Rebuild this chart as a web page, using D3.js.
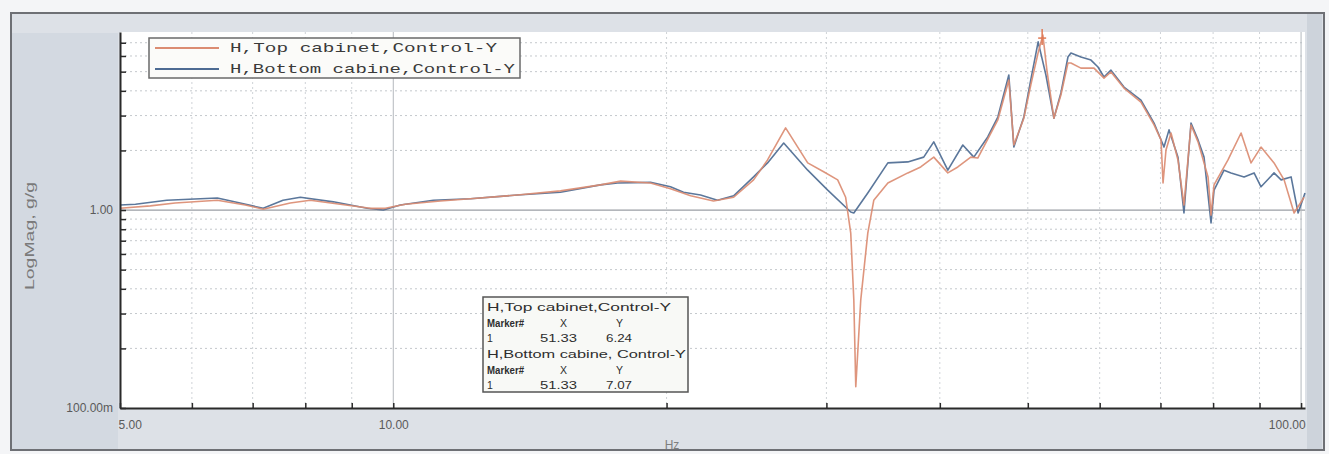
<!DOCTYPE html>
<html>
<head>
<meta charset="utf-8">
<script src="https://cdn.jsdelivr.net/npm/d3@7"></script>
<style>
  html, body { margin: 0; padding: 0; background: #f4f5f7; }
  svg { display: block; }
</style>
</head>
<body>
<svg id="chart" width="1329" height="454"></svg>
<script>
// Transfer function magnitude, top cabinet vs. bottom cabinet (frequency in Hz, magnitude in g/g)
const freqTop = [5.00, 5.40, 5.75, 6.40, 6.87, 7.19, 7.70, 8.10, 8.74, 9.43, 9.80, 10.31, 11.27, 12.16, 13.70,
  15.28, 16.91, 17.80, 19.20, 20.20, 21.26, 22.53, 23.71, 24.94, 25.84, 27.05, 28.61, 29.79, 30.87, 31.50,
  31.91, 32.16, 32.32, 32.73, 33.32, 33.83, 35.06, 36.88, 38.11, 39.39, 40.82, 41.87, 43.27, 44.04, 45.17,
  46.34, 47.65, 48.26, 49.50, 50.38, 51.33, 51.95, 52.48, 53.42, 54.38, 55.36, 55.78, 57.21, 59.14, 60.66,
  61.74, 63.81, 66.62, 68.87, 70.10, 70.46, 70.99, 71.90, 73.18, 74.30, 75.64, 77.00, 78.98, 79.58, 80.19,
  83.08, 85.88, 88.08, 90.34, 93.37, 95.79, 98.24, 100.77];
const magTop = [1.02, 1.05, 1.085, 1.12, 1.06, 1.01, 1.085, 1.12, 1.07, 1.02, 1.02, 1.07, 1.11, 1.14, 1.19,
  1.25, 1.34, 1.40, 1.37, 1.28, 1.18, 1.11, 1.16, 1.42, 1.79, 2.60, 1.73, 1.56, 1.42, 1.16,
  0.765, 0.351, 0.128, 0.351, 0.765, 1.12, 1.37, 1.54, 1.65, 1.85, 1.54, 1.65, 1.85, 1.83, 2.28,
  2.85, 4.54, 2.13, 2.91, 4.28, 6.24, 7.65, 5.09, 2.91, 3.81, 5.53, 5.53, 5.21, 5.21, 4.64,
  4.98, 4.13, 3.51, 2.69, 2.26, 1.37, 2.01, 2.45, 1.79, 1.06, 2.69, 2.21, 1.47, 0.943, 1.34,
  1.79, 2.45, 1.73, 2.08, 1.73, 1.42, 0.966, 1.16];

const freqBottom = [5.00, 5.20, 5.63, 6.13, 6.40, 6.78, 7.19, 7.56, 7.90, 8.59, 9.36, 9.75, 10.18, 11.07, 12.16,
  13.70, 15.28, 16.91, 17.66, 19.20, 20.20, 20.88, 21.80, 22.76, 23.71, 24.94, 25.84, 26.92, 28.61, 30.10,
  31.91, 32.16, 33.32, 35.06, 36.88, 38.40, 39.39, 40.82, 42.40, 43.60, 45.17, 46.34, 47.65, 48.26, 49.50,
  50.38, 51.33, 52.35, 53.42, 54.38, 55.36, 55.78, 57.21, 58.69, 59.74, 60.66, 61.74, 63.81, 66.62, 68.87,
  70.63, 71.54, 73.18, 74.30, 75.64, 77.00, 78.18, 79.58, 80.19, 82.25, 83.72, 86.54, 88.76, 90.34, 93.37,
  95.06, 97.50, 99.25, 101.0];
const magBottom = [1.06, 1.07, 1.12, 1.14, 1.15, 1.085, 1.02, 1.12, 1.16, 1.10, 1.02, 1.00, 1.06, 1.12, 1.14,
  1.19, 1.23, 1.34, 1.37, 1.38, 1.31, 1.23, 1.19, 1.12, 1.18, 1.47, 1.73, 2.18, 1.59, 1.26,
  0.977, 0.966, 1.22, 1.73, 1.75, 1.85, 2.21, 1.59, 2.13, 1.85, 2.34, 2.95, 4.81, 2.08, 2.95,
  4.54, 7.07, 4.81, 2.91, 3.90, 5.93, 6.21, 5.93, 5.72, 5.28, 4.70, 5.09, 4.18, 3.59, 2.75,
  2.08, 2.54, 1.85, 0.966, 2.75, 2.26, 1.85, 0.86, 1.26, 1.59, 1.54, 1.47, 1.54, 1.31, 1.54,
  1.42, 1.47, 0.966, 1.22];

const seriesNames = ["H,Top cabinet,Control-Y", "H,Bottom cabine,Control-Y"];
const seriesColors = ["#db8c72", "#4d6b93"];

const xTickValues = [5, 10, 100];
const xTickLabels = ["5.00", "10.00", "100.00"];
const xMinorValues = [6, 7, 8, 9, 20, 30, 40, 50, 60, 70, 80, 90];
const yTickValues = [0.1, 1];
const yTickLabels = ["100.00m", "1.00"];
const yMinorValues = [0.2, 0.3, 0.4, 0.5, 0.6, 0.7, 0.8, 0.9, 2, 3, 4, 5, 6, 7];

// Marker readout at the main resonance
const markerX = 51.33;
const markerY = [6.24, 7.07];

const svg = d3.select("#chart");
const plot = { left: 120, right: 1305, top: 32, bottom: 408 };

const x = d3.scaleLog().domain([5, 101]).range([plot.left, plot.right]);
const y = d3.scaleLog().domain([0.1, 7.93]).range([plot.bottom, plot.top]);

// Outer panel and frame
svg.append("rect").attr("x", 11).attr("y", 13).attr("width", 1313).attr("height", 437)
  .attr("fill", "#dde1e7").attr("stroke", "#6e7075").attr("stroke-width", 2);
svg.append("rect").attr("x", 12).attr("y", 33).attr("width", 106).attr("height", 416)
  .attr("fill", "#d3d9e1");
svg.append("rect").attr("x", plot.right + 2).attr("y", 14).attr("width", 15).attr("height", 435)
  .attr("fill", "#cdd3db");
svg.append("rect").attr("x", plot.left).attr("y", plot.top)
  .attr("width", plot.right - plot.left).attr("height", plot.bottom - plot.top)
  .attr("fill", "#ffffff");

// Grid
const grid = svg.append("g");
grid.selectAll("line.hminor").data(yMinorValues).join("line")
  .attr("x1", plot.left).attr("x2", plot.right)
  .attr("y1", d => y(d)).attr("y2", d => y(d))
  .attr("stroke", "#c4c8cc").attr("stroke-width", 1).attr("stroke-dasharray", "2,3");
grid.selectAll("line.vminor").data(xMinorValues).join("line")
  .attr("x1", d => x(d)).attr("x2", d => x(d))
  .attr("y1", plot.top).attr("y2", plot.bottom)
  .attr("stroke", "#cfd3d7").attr("stroke-width", 1).attr("stroke-dasharray", "2,3");
grid.append("line")
  .attr("x1", plot.left).attr("x2", plot.right)
  .attr("y1", y(1)).attr("y2", y(1))
  .attr("stroke", "#9a9ea4").attr("stroke-width", 1.2);
grid.selectAll("line.vmajor").data([10, 100]).join("line")
  .attr("x1", d => x(d)).attr("x2", d => x(d))
  .attr("y1", plot.top).attr("y2", plot.bottom)
  .attr("stroke", "#b4b8bd").attr("stroke-width", 1);

// Curves
svg.append("clipPath").attr("id", "plotclip").append("rect")
  .attr("x", plot.left).attr("y", plot.top - 6)
  .attr("width", plot.right - plot.left + 3).attr("height", plot.bottom - plot.top + 6);

const line = d3.line().x(d => x(d[0])).y(d => y(d[1]));
const seriesData = [
  d3.zip(freqTop, magTop),
  d3.zip(freqBottom, magBottom)
];
const curves = svg.append("g").attr("clip-path", "url(#plotclip)");
// bottom cabinet drawn first, top cabinet over it
[1, 0].forEach(i => {
  curves.append("path").datum(seriesData[i])
    .attr("d", line)
    .attr("fill", "none")
    .attr("stroke", seriesColors[i])
    .attr("stroke-width", 1.6)
    .attr("stroke-linejoin", "round")
    .attr("opacity", 0.92);
});

// Marker cursor on the top cabinet trace
const mx = x(markerX);
svg.append("line").attr("x1", mx + 4).attr("x2", mx + 4).attr("y1", y(7.65) - 6).attr("y2", y(7.65) + 10)
  .attr("stroke", "#e07a55").attr("stroke-width", 1.5);
svg.append("line").attr("x1", mx).attr("x2", mx + 8).attr("y1", y(7.65) + 3).attr("y2", y(7.65) + 3)
  .attr("stroke", "#e07a55").attr("stroke-width", 1.5);

// Axes
const yAxis = d3.axisLeft(y)
  .tickValues(yTickValues.concat(yMinorValues))
  .tickSizeInner(-6).tickSizeOuter(0).tickPadding(7)
  .tickFormat(d => { const k = yTickValues.indexOf(d); return k >= 0 ? yTickLabels[k] : ""; });
const gy = svg.append("g").attr("transform", `translate(${plot.left},0)`).call(yAxis);
gy.select(".domain").attr("stroke", "#2a2a2a").attr("stroke-width", 2);
gy.selectAll(".tick line").attr("stroke", "#2a2a2a").attr("stroke-width", 1.5);
gy.selectAll(".tick text").attr("fill", "#5a5a5a").attr("font-family", "Liberation Sans, Arial, sans-serif")
  .attr("font-size", 12);

const xAxis = d3.axisBottom(x)
  .tickValues(xTickValues.concat(xMinorValues))
  .tickSizeInner(-5).tickSizeOuter(0).tickPadding(12)
  .tickFormat(d => { const k = xTickValues.indexOf(d); return k >= 0 ? xTickLabels[k] : ""; });
const gx = svg.append("g").attr("transform", `translate(0,${plot.bottom})`).call(xAxis);
gx.select(".domain").attr("stroke", "#2a2a2a").attr("stroke-width", 2);
gx.selectAll(".tick line").attr("stroke", "#2a2a2a").attr("stroke-width", 1.5);
gx.selectAll(".tick text").attr("fill", "#5a5a5a").attr("font-family", "Liberation Sans, Arial, sans-serif")
  .attr("font-size", 12)
  .attr("text-anchor", d => d === xTickValues[0] ? "start" : (d === xTickValues[xTickValues.length - 1] ? "end" : "middle"))
  .attr("dx", d => d === xTickValues[0] ? -2 : (d === xTickValues[xTickValues.length - 1] ? 4 : 0));

// Axis titles
svg.append("text").attr("transform", `translate(34,236) rotate(-90)`)
  .attr("text-anchor", "middle").attr("fill", "#7a7a7a")
  .attr("font-family", "Liberation Sans, Arial, sans-serif").attr("font-size", 13)
  .attr("textLength", 108).attr("lengthAdjust", "spacingAndGlyphs")
  .text("LogMag, g/g");
svg.append("text").attr("x", 672).attr("y", 449)
  .attr("text-anchor", "middle").attr("fill", "#7f7f7f")
  .attr("font-family", "Liberation Sans, Arial, sans-serif").attr("font-size", 12)
  .text("Hz");

// Legend
const legend = svg.append("g");
legend.append("rect").attr("x", 149).attr("y", 38).attr("width", 371).attr("height", 40)
  .attr("fill", "#fbfbf9").attr("stroke", "#6a6a6a").attr("stroke-width", 1.5);
const legendTextEnd = [497, 515];
seriesNames.forEach((name, i) => {
  const ly = 48 + i * 21;
  legend.append("line").attr("x1", 155).attr("x2", 219).attr("y1", ly).attr("y2", ly)
    .attr("stroke", seriesColors[i]).attr("stroke-width", 2);
  legend.append("text").attr("x", 230).attr("y", ly + 4)
    .attr("font-family", "Liberation Mono, Courier New, monospace").attr("font-size", 13)
    .attr("fill", "#3a3a3a")
    .attr("textLength", legendTextEnd[i] - 230).attr("lengthAdjust", "spacingAndGlyphs")
    .text(name);
});

// Marker readout box
const box = svg.append("g");
box.append("rect").attr("x", 483).attr("y", 297).attr("width", 205).attr("height", 95)
  .attr("fill", "#f8f9f6").attr("stroke", "#555").attr("stroke-width", 1.5);
const boxFont = "Liberation Sans, Arial, sans-serif";
function boxText(tx, ty, str, len) {
  const t = box.append("text").attr("x", tx).attr("y", ty)
    .attr("font-family", boxFont).attr("font-size", 10.5).attr("fill", "#2e2e2e").text(str);
  if (len) t.attr("textLength", len).attr("lengthAdjust", "spacingAndGlyphs");
  return t;
}
seriesNames.forEach((name, i) => {
  const base = 311 + i * 47;
  const title = i === 0 ? "H,Top cabinet,Control-Y" : "H,Bottom cabine, Control-Y";
  boxText(487, base, title, i === 0 ? 184 : 199);
  boxText(487, base + 15.5, "Marker#", 37).attr("font-weight", "bold");
  boxText(560, base + 15.5, "X");
  boxText(616, base + 15.5, "Y");
  boxText(487, base + 31, "1");
  boxText(540, base + 31, markerX.toFixed(2), 37);
  boxText(606, base + 31, markerY[i].toFixed(2), 26);
});
</script>
</body>
</html>
